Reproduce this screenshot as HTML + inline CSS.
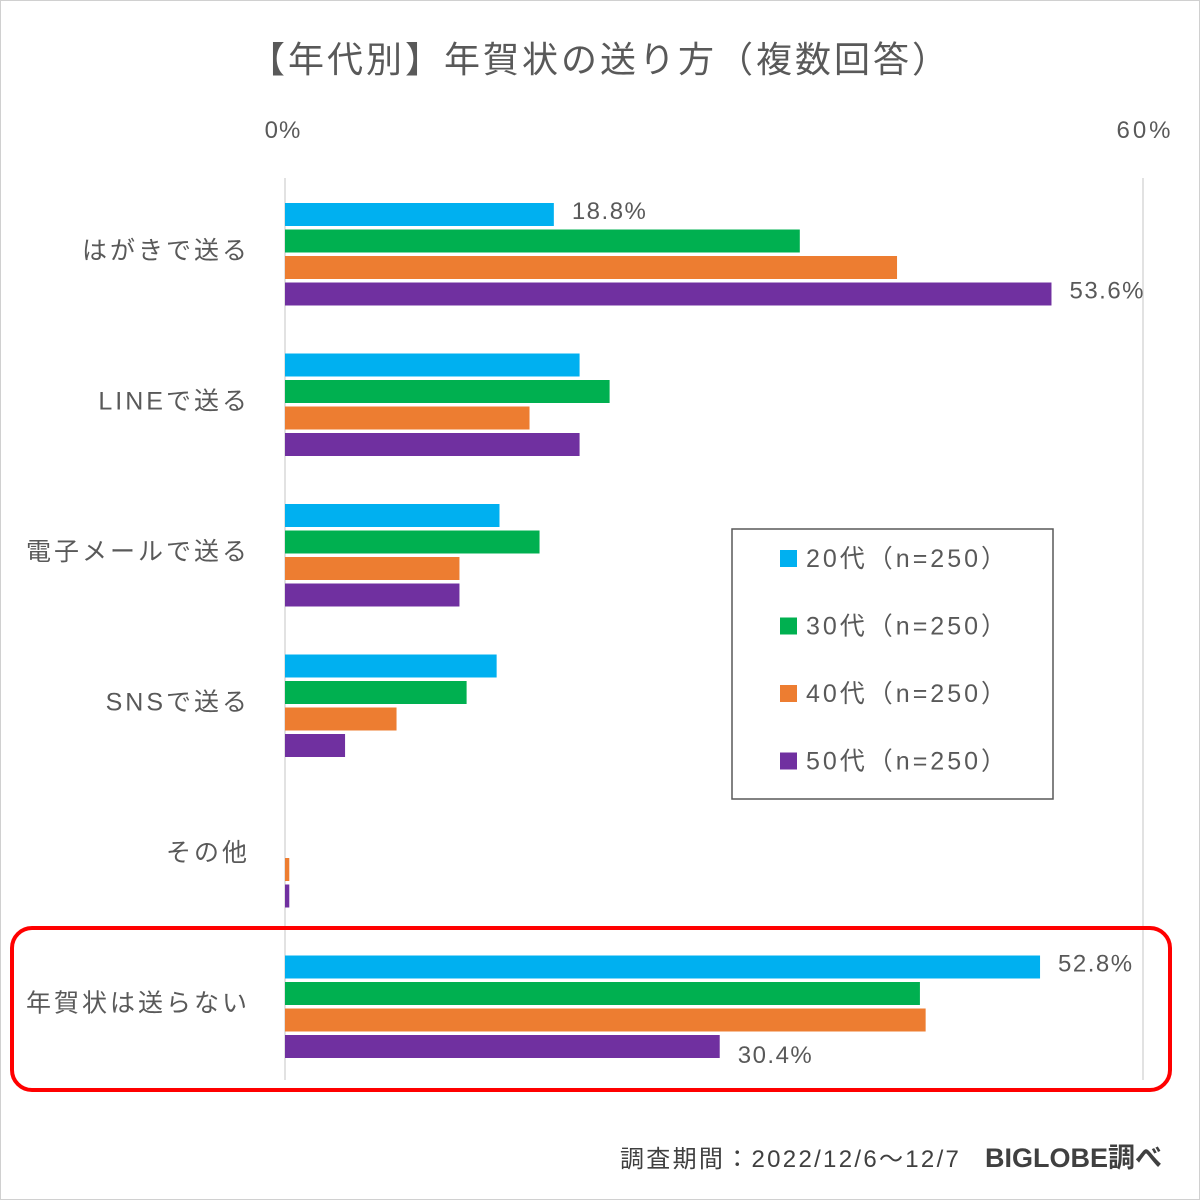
<!DOCTYPE html>
<html><head><meta charset="utf-8"><style>
html,body{margin:0;padding:0;background:#fff}
svg{display:block;font-family:"Liberation Sans","Noto Sans CJK JP",sans-serif}
</style></head><body>
<svg id="c" width="1200" height="1200" viewBox="0 0 1200 1200">
<rect x="0.5" y="0.5" width="1199" height="1199" fill="#fff" stroke="#d0d0d0"/>
<text x="600" y="72" text-anchor="middle" font-size="36" letter-spacing="3" fill="#595959">【年代別】年賀状の送り方（複数回答）</text>
<text x="283" y="138" text-anchor="middle" font-size="24" letter-spacing="1" fill="#595959">0%</text>
<text x="1145" y="138" text-anchor="middle" font-size="24" letter-spacing="3" fill="#595959">60%</text>
<line x1="285" y1="178" x2="285" y2="1080" stroke="#d9d9d9" stroke-width="1.5"/>
<line x1="1143" y1="178" x2="1143" y2="1080" stroke="#d9d9d9" stroke-width="1.5"/>
<g id="bars"></g>
<g>
<rect x="732" y="529" width="321" height="270" fill="#fff" stroke="#595959" stroke-width="1.5"/>
<g id="leg"></g>
</g>
<rect x="12" y="928" width="1158" height="162" rx="20" fill="none" stroke="#ff0000" stroke-width="4"/>
<text x="620" y="1167" font-size="24" letter-spacing="2.3" fill="#404040">調査期間：2022/12/6～12/7</text>
<text x="985" y="1167" font-size="27" font-weight="bold" fill="#404040">BIGLOBE調べ</text>
</svg>
<script>
const categories=["はがきで送る","LINEで送る","電子メールで送る","SNSで送る","その他","年賀状は送らない"];
const series=["20代（n=250）","30代（n=250）","40代（n=250）","50代（n=250）"];
const colors=["#00b0f0","#00b050","#ed7d31","#7030a0"];
const v20=[18.8,20.6,15.0,14.8,0,52.8];
const v30=[36.0,22.7,17.8,12.7,0,44.4];
const v40=[42.8,17.1,12.2,7.8,0.3,44.8];
const v50=[53.6,20.6,12.2,4.2,0.3,30.4];
const shownLabels=[[0,0],[3,0],[0,5],[3,5]];
const vals=[v20,v30,v40,v50];
const NS="http://www.w3.org/2000/svg";
const x=v=>285+v*(1143-285)/60;
const gy=i=>203+i*150.5;
const by=(i,s)=>gy(i)+s*26.5;
const g=document.getElementById('bars');
function mk(t,a){const e=document.createElementNS(NS,t);for(const k in a)e.setAttribute(k,a[k]);return e;}
categories.forEach((c,i)=>{
  const t=mk('text',{x:250,y:gy(i)+56,'text-anchor':'end','font-size':25,'letter-spacing':3,fill:'#595959'});
  t.textContent=c;
  
  
  g.appendChild(t);
  vals.forEach((arr,s)=>{
    const r=mk('rect',{x:285,y:by(i,s),width:Math.max(0,x(arr[i])-285),height:23,fill:colors[s]});
    
    
    g.appendChild(r);
  });
});
shownLabels.forEach(([s,i])=>{
  const v=vals[s][i];
  const t=mk('text',{x:x(v)+18,y:by(i,s)+(s===3&&i===5?28:16),'font-size':24,'letter-spacing':1.5,fill:'#595959'});
  t.textContent=v.toFixed(1)+'%';
  
  
  g.appendChild(t);
});
const lg=document.getElementById('leg');
series.forEach((n,s)=>{
  const yy=558+s*67.5;
  const r=mk('rect',{x:780,y:yy-8,width:17,height:17,fill:colors[s]});
  
  
  lg.appendChild(r);
  const t=mk('text',{x:806,y:yy+9,'font-size':25,'letter-spacing':3,fill:'#595959'});
  t.textContent=n;
  
  
  lg.appendChild(t);
});
</script>
</body></html>
